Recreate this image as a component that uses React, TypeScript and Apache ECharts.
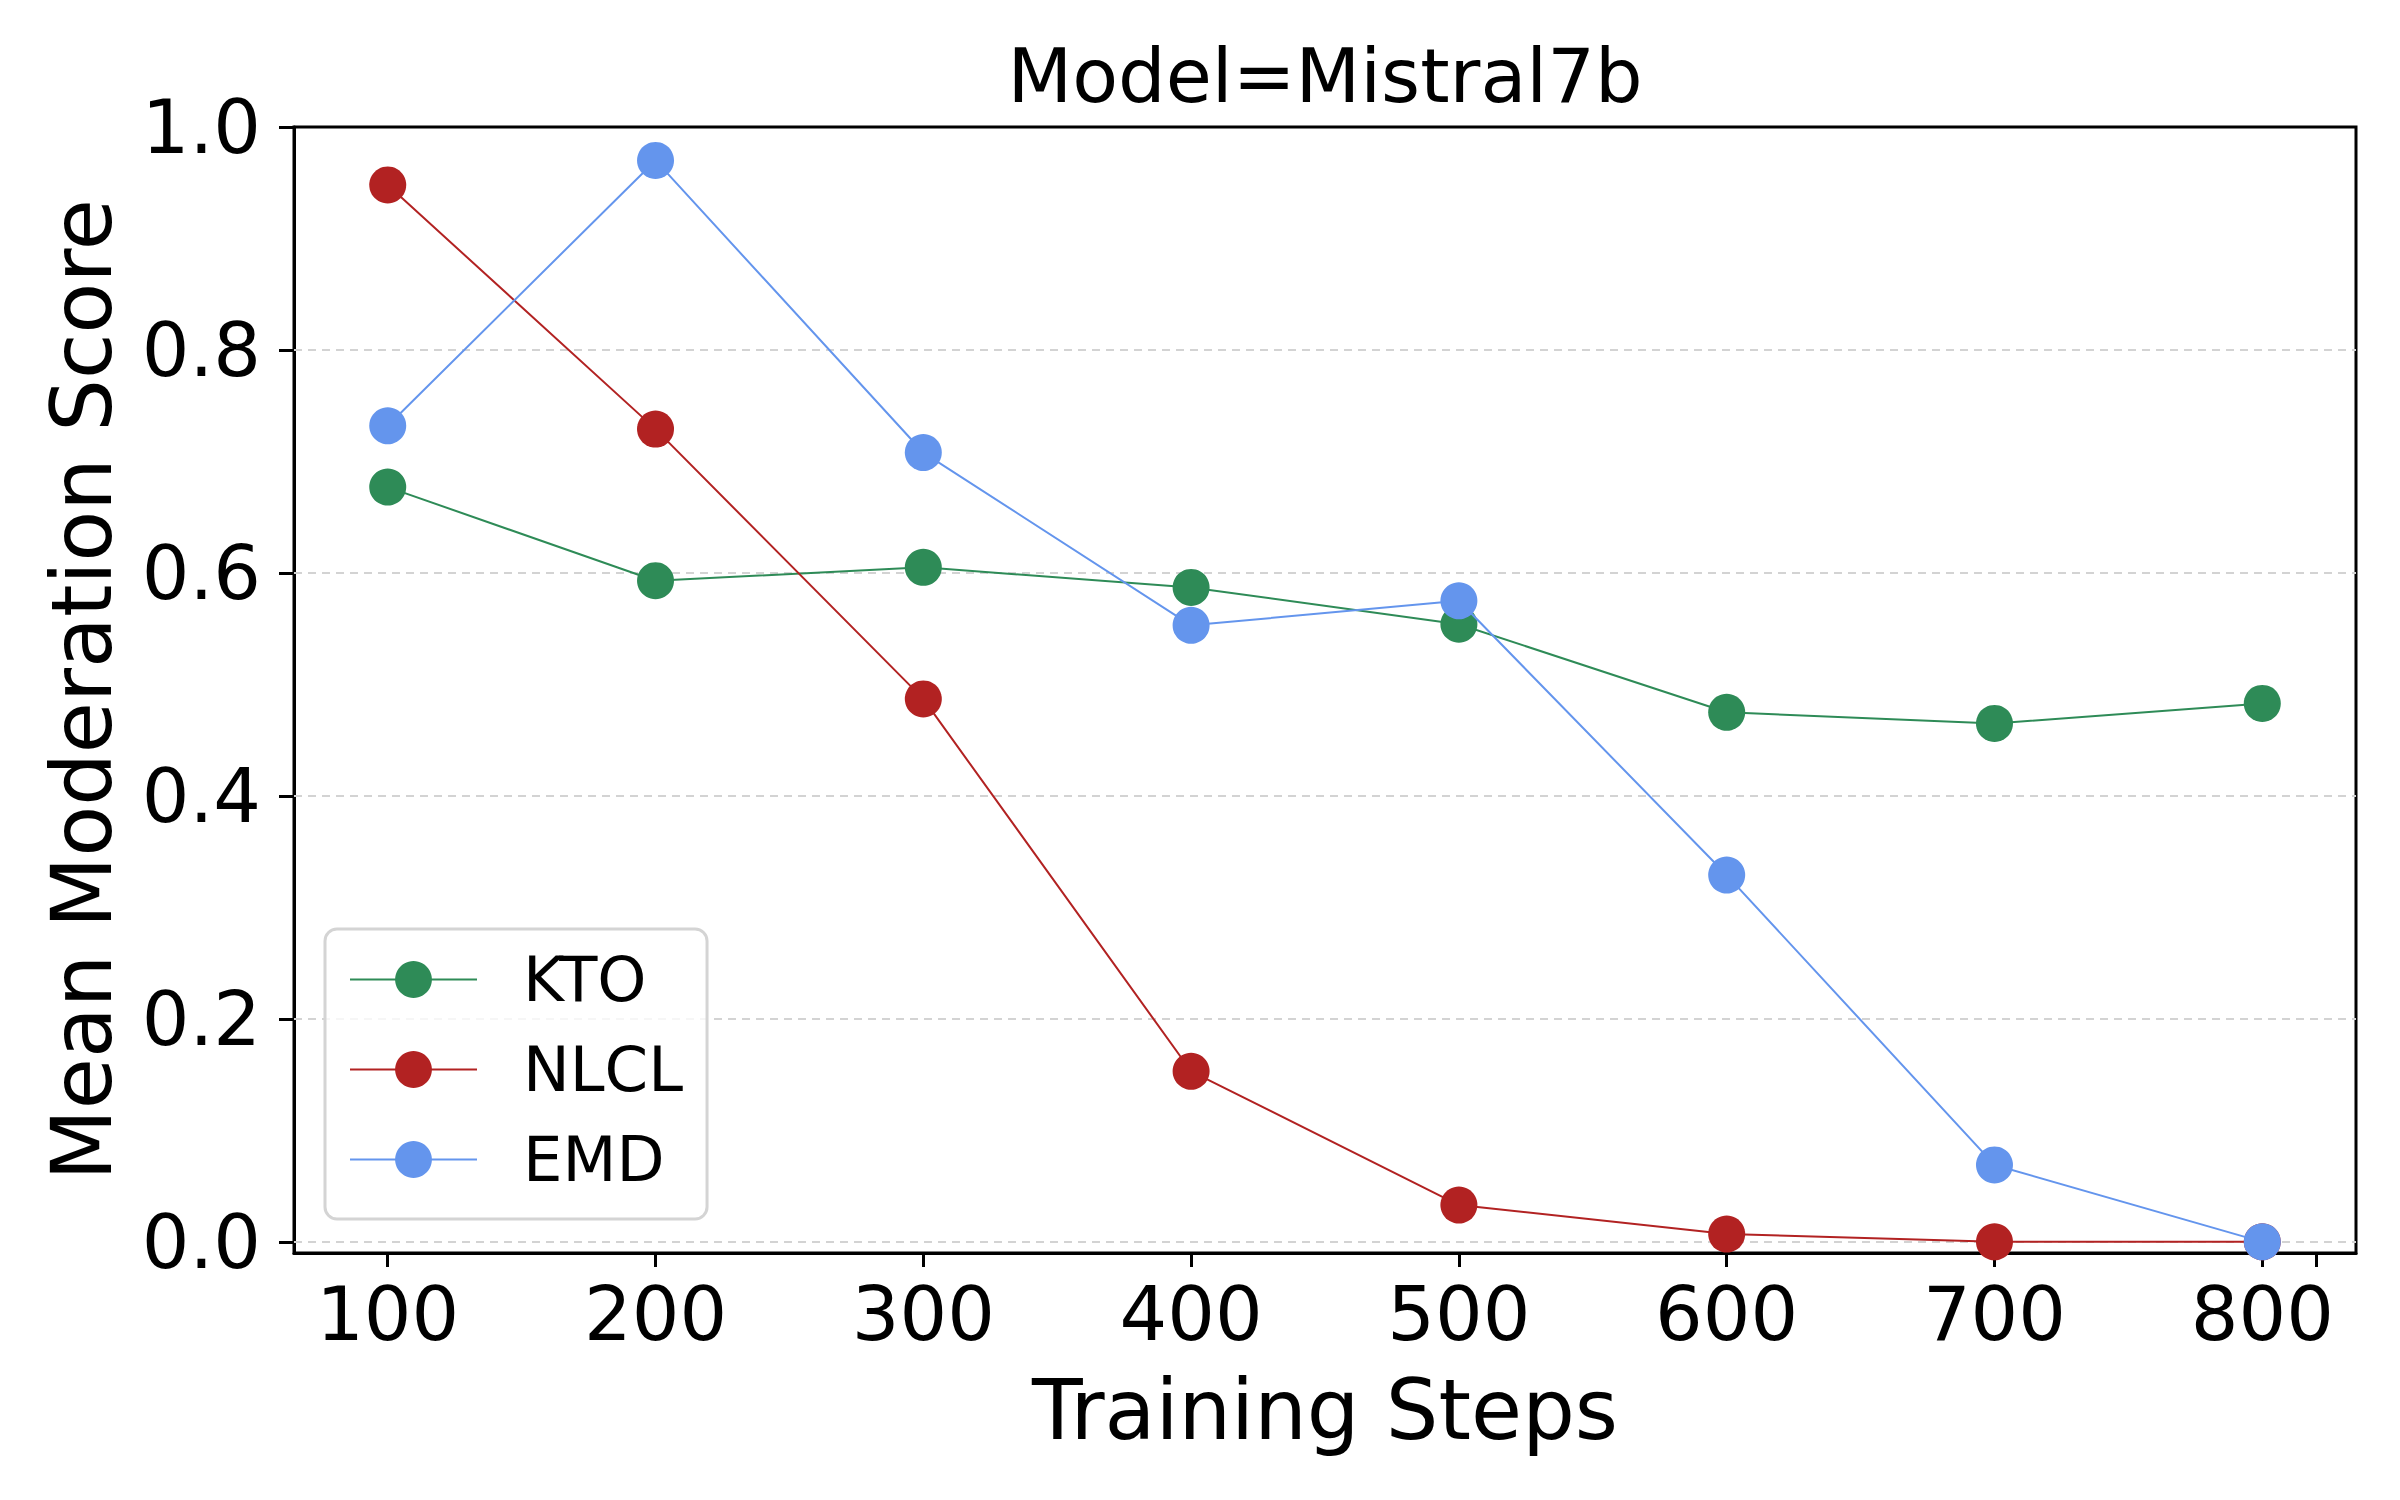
import React, { useEffect, useRef } from "react";
import * as echarts from "echarts";

const steps = [100, 200, 300, 400, 500, 600, 700, 800];
const ktoValues = [0.677, 0.593, 0.605, 0.587, 0.554, 0.475, 0.465, 0.483];
const nlclValues = [0.948, 0.729, 0.487, 0.153, 0.033, 0.007, 0.0, 0.0];
const emdValues = [0.732, 0.97, 0.708, 0.553, 0.575, 0.329, 0.069, 0.0];
const seriesNames = ["KTO", "NLCL", "EMD"];
const seriesColors = ["#2E8B57", "#B22222", "#6495ED"];
const xTickLabels = [100, 200, 300, 400, 500, 600, 700, 800];
const xTickMarks = [100, 200, 300, 400, 500, 600, 700, 800, 820];
const yTicks = [0, 0.2, 0.4, 0.6, 0.8, 1.0];
const yGridLines = [0, 0.2, 0.4, 0.6, 0.8];

const FONT = "DejaVu Sans";

export default function App() {
  const ref = useRef<HTMLDivElement>(null);
  useEffect(() => {
    if (!ref.current) return;
    const chart = echarts.init(ref.current, null, { renderer: "svg" });
    const allValues = [ktoValues, nlclValues, emdValues];
    const lineSeries = seriesNames.map((name, i) => ({
      name,
      type: "line",
      data: steps.map((s, j) => [s, allValues[i][j]]),
      symbol: "circle",
      symbolSize: 37,
      showSymbol: true,
      color: seriesColors[i],
      itemStyle: { color: seriesColors[i] },
      lineStyle: { color: seriesColors[i], width: 2 },
      z: 3 + i,
      emphasis: { disabled: true },
    }));
    const option: any = {
      animation: false,
      backgroundColor: "#ffffff",
      textStyle: { fontFamily: FONT },
      title: {
        text: "Model=Mistral7b",
        left: 1325,
        textAlign: "center",
        top: 38,
        padding: 0,
        textStyle: { fontFamily: FONT, fontSize: 75, fontWeight: "normal", color: "#000" },
      },
      grid: {
        left: 294,
        right: 44,
        top: 127,
        bottom: 247,
        show: true,
        borderColor: "#000",
        borderWidth: 3,
        backgroundColor: "transparent",
      },
      legend: {
        orient: "vertical",
        left: 325,
        top: 929,
        data: seriesNames,
        itemWidth: 127,
        itemHeight: 46,
        itemGap: 27,
        padding: [19, 24, 28, 24],
        backgroundColor: "rgba(255,255,255,0.8)",
        borderColor: "#d4d4d4",
        borderWidth: 3,
        borderRadius: 12,
        z: 10,
        textStyle: { fontFamily: FONT, fontSize: 62.5, color: "#000", padding: [0, 0, 0, 41] },
        selectedMode: false,
      },
      xAxis: {
        type: "value",
        min: 65,
        max: 835,
        name: "Training Steps",
        nameLocation: "middle",
        nameGap: 116,
        nameTextStyle: { fontFamily: FONT, fontSize: 83, color: "#000" },
        axisLine: { show: true, onZero: false, lineStyle: { color: "#000", width: 3 } },
        axisTick: {
          show: true,
          inside: false,
          length: 14,
          customValues: xTickMarks,
          lineStyle: { color: "#000", width: 3 },
        },
        axisLabel: {
          customValues: xTickLabels,
          margin: 23,
          fontFamily: FONT,
          fontSize: 75,
          color: "#000",
          formatter: (v: number) => String(v),
        },
        splitLine: { show: false },
      },
      yAxis: {
        type: "value",
        min: -0.01,
        max: 1.0,
        name: "Mean Moderation Score",
        nameLocation: "middle",
        nameGap: 170,
        nameTextStyle: { fontFamily: FONT, fontSize: 83, color: "#000" },
        axisLine: { show: true, onZero: false, lineStyle: { color: "#000", width: 3 } },
        axisTick: {
          show: true,
          inside: false,
          length: 15,
          customValues: yTicks,
          lineStyle: { color: "#000", width: 3 },
        },
        axisLabel: {
          customValues: yTicks,
          margin: 33,
          fontFamily: FONT,
          fontSize: 75,
          color: "#000",
          formatter: (v: number) => v.toFixed(1),
        },
        splitLine: { show: false },
      },
      series: [
        {
          name: "gridlines",
          type: "line",
          data: [],
          silent: true,
          z: 1,
          markLine: {
            silent: true,
            z: 1,
            symbol: ["none", "none"],
            label: { show: false },
            lineStyle: { color: "#d3d3d3", width: 2, type: [8, 6] },
            emphasis: { disabled: true },
            data: yGridLines.map((v) => ({ yAxis: v })),
          },
        },
        ...lineSeries,
      ],
    };
    chart.setOption(option);
    return () => chart.dispose();
  }, []);
  return (
    <div
      ref={ref}
      style={{ position: "absolute", left: 0, top: 0, width: 2400, height: 1500 }}
    />
  );
}
